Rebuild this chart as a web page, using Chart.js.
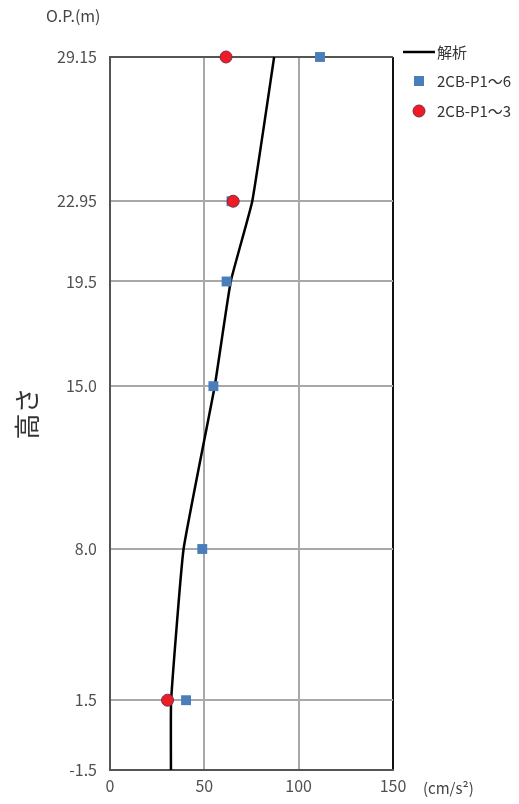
<!DOCTYPE html>
<html><head><meta charset="utf-8">
<script src="https://cdn.jsdelivr.net/npm/chart.js@4"></script>
<style>body{margin:0;background:#fff}canvas{display:block}</style>
</head><body>
<canvas id="c" width="519" height="804"></canvas>
<script>
const heights = [-1.5, 1.5, 8.0, 15.0, 19.5, 22.95, 29.15];
const heightLabels = ['-1.5', '1.5', '8.0', '15.0', '19.5', '22.95', '29.15'];
const analysisAccel = [32.3, 32.4, 39.0, 55.5, 64.0, 75.4, 87.0];
const p16Heights = [1.5, 8.0, 15.0, 19.5, 22.95, 29.15];
const p16Accel = [40.3, 48.9, 54.8, 61.8, 64.4, 111.3];
const p13Heights = [1.5, 22.95, 29.15];
const p13Accel = [30.5, 65.3, 61.5];
const xTicks = [0, 50, 100, 150];
const seriesNames = ['解析', '2CB-P1～6', '2CB-P1～3'];

const FONT = "'Noto Sans CJK JP', 'DejaVu Sans', sans-serif";
const pts = (xs, ys) => xs.map((x, i) => ({x: x, y: ys[i]}));

const extraText = {
  id: 'extraText',
  afterDraw(chart) {
    const ctx = chart.ctx;
    ctx.save();
    ctx.fillStyle = '#444';
    ctx.font = '16px ' + FONT;
    ctx.textBaseline = 'middle';
    ctx.textAlign = 'left';
    ctx.fillText('O.P.(m)', 46, 16);
    ctx.font = '15px ' + FONT;
    ctx.fillText('(cm/s²)', 423, 788);
    // legend
    const ds = chart.data.datasets;
    const lx = 403;
    ctx.font = '15px ' + FONT;
    ctx.fillStyle = '#333';
    ctx.strokeStyle = ds[0].borderColor;
    ctx.lineWidth = 2.5;
    ctx.beginPath(); ctx.moveTo(lx, 52); ctx.lineTo(lx + 32, 52); ctx.stroke();
    ctx.fillText(ds[0].label, 437, 52);
    ctx.fillStyle = ds[1].backgroundColor;
    ctx.fillRect(414, 76, 10, 10);
    ctx.fillStyle = '#333';
    ctx.fillText(ds[1].label, 437, 81);
    ctx.beginPath(); ctx.arc(419, 111, 6, 0, Math.PI * 2);
    ctx.fillStyle = ds[2].backgroundColor; ctx.fill();
    ctx.strokeStyle = ds[2].borderColor; ctx.lineWidth = 1; ctx.stroke();
    ctx.fillStyle = '#333';
    ctx.fillText(ds[2].label, 437, 111);
    ctx.restore();
  }
};

new Chart(document.getElementById('c'), {
  type: 'scatter',
  data: {
    datasets: [
      {
        label: seriesNames[0], type: 'line', data: pts(analysisAccel, heights),
        borderColor: '#000', borderWidth: 2.5, pointRadius: 0, tension: 0.12,
        fill: false, order: 3, clip: false
      },
      {
        label: seriesNames[1], data: pts(p16Accel, p16Heights),
        pointStyle: 'rect', pointRadius: 7, backgroundColor: '#4a7ebb', borderColor: '#4a7ebb',
        borderWidth: 0, order: 2, clip: false
      },
      {
        label: seriesNames[2], data: pts(p13Accel, p13Heights),
        pointStyle: 'circle', pointRadius: 6, backgroundColor: '#ee1c25', borderColor: '#7a2b4a',
        borderWidth: 1, order: 1, clip: false
      }
    ]
  },
  options: {
    responsive: false,
    animation: false,
    layout: {padding: {top: 57, right: 126, left: 0, bottom: 0}},
    plugins: {legend: {display: false}, tooltip: {enabled: false}},
    scales: {
      x: {
        type: 'linear', min: 0, max: 150,
        afterBuildTicks: s => { s.ticks = xTicks.map(v => ({value: v})); },
        afterFit: s => { s.height = 34; },
        ticks: {color: '#505050', font: {family: FONT, size: 16}, padding: 6},
        grid: {
          drawTicks: false, lineWidth: 2,
          color: c => c.tick && c.tick.value === 150 ? '#111' : (c.tick && c.tick.value === 0 ? '#555' : '#a8a8a8')
        },
        border: {color: '#555', width: 2}
      },
      y: {
        type: 'linear', min: -1.5, max: 29.15,
        afterBuildTicks: s => { s.ticks = heights.map(v => ({value: v})); },
        afterFit: s => { s.width = 110; },
        ticks: {
          color: '#505050', font: {family: FONT, size: 16}, padding: 13,
          callback: (v) => { const i = heights.indexOf(v); return i >= 0 ? heightLabels[i] : ''; }
        },
        grid: {
          drawTicks: false, lineWidth: 2,
          color: c => c.tick && (c.tick.value === 29.15 || c.tick.value === -1.5) ? '#555' : '#a8a8a8'
        },
        border: {color: '#555', width: 2},
        title: {display: true, text: '高さ', color: '#333', font: {family: FONT, size: 26}, padding: {top: 12, bottom: 0}}
      }
    }
  },
  plugins: [extraText]
});
</script>
</body></html>
